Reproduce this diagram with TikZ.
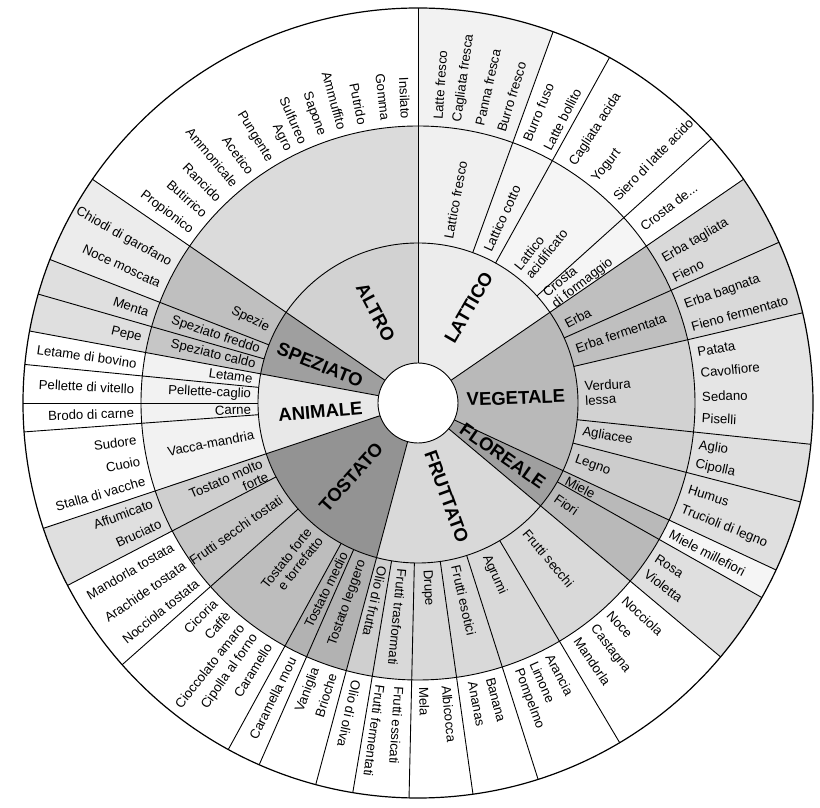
\documentclass[tikz,border=0pt]{standalone}
\usepackage{fontspec}
\setmainfont{Liberation Sans}
\newcommand\ringpart[5]{
  \fill[#1] (#2:#4) arc[start angle=#2, end angle=#3, radius=#4] -- (#3:#5) arc[start angle=#3, end angle=#2, radius=#5] -- cycle;
}
\newcommand\outword[4]{
  \node[word, anchor=west, align=left, rotate=#2] (#1) at (#2:#3) {#4};
}
\newcommand\inword[4]{
  \node[word, anchor=east, align=right, rotate=#2+180] (#1) at (#2:#3) {#4};
}

\begin{document}
\begin{tikzpicture}[x=1pt, y=1pt,
  word/.style={font=\fontsize{13.2}{14.2}\selectfont, inner sep=0pt},
  cat/.style={font=\fontsize{18.5}{20}\selectfont\bfseries, inner sep=0pt},
  rim/.style={line width=0.9pt}]
\fill[white] (-418,-405) rectangle (402,403);
\useasboundingbox (-418,-405) rectangle (402,403);

% inner ring
\ringpart{gray!35}{90}{145.5}{40}{160}
\ringpart{gray!75}{145.5}{169.5}{40}{160}
\ringpart{gray!18}{169.5}{198.5}{40}{160}
\ringpart{gray!85}{198.5}{255}{40}{160}
\ringpart{gray!30}{255}{320}{40}{160}
\ringpart{gray!75}{320}{335}{40}{160}
\ringpart{gray!55}{335}{394.5}{40}{160}
\ringpart{gray!15}{34.5}{90}{40}{160}

% middle ring
\ringpart{gray!28}{90}{145.5}{160}{277}
\ringpart{gray!50}{145.5}{158.7}{160}{277}
\ringpart{gray!45}{158.7}{169.5}{160}{277}
\ringpart{gray!10}{169.5}{198.5}{160}{277}
\ringpart{gray!38}{198.5}{207.5}{160}{277}
\ringpart{gray!45}{207.5}{221.5}{160}{277}
\ringpart{gray!52}{221.5}{241.3}{160}{277}
\ringpart{gray!60}{241.3}{255}{160}{277}
\ringpart{gray!38}{255}{260.5}{160}{277}
\ringpart{gray!30}{260.5}{320}{160}{277}
\ringpart{gray!55}{320}{335}{160}{277}
\ringpart{gray!40}{335}{345.5}{160}{277}
\ringpart{gray!35}{345.5}{373.2}{160}{277}
\ringpart{gray!50}{13.2}{34.5}{160}{277}
\ringpart{gray!8}{34.5}{70}{160}{277}
\ringpart{gray!12}{70}{90}{160}{277}

% outer ring
\ringpart{gray!15}{145.5}{158.7}{277}{395}
\ringpart{gray!25}{158.7}{169.5}{277}{395}
\ringpart{gray!25}{198.5}{207.5}{277}{395}
\ringpart{gray!25}{320}{330.5}{277}{395}
\ringpart{gray!8}{330.5}{335}{277}{395}
\ringpart{gray!25}{335}{354}{277}{395}
\ringpart{gray!20}{354}{373.2}{277}{395}
\ringpart{gray!30}{13.2}{34.5}{277}{395}
\ringpart{gray!10}{70}{90}{277}{395}

\foreach \a in {90,145.5,169.5,198.5,255,320,335,34.5}
  \draw[rim] (\a:40) -- (\a:395);
\foreach \a in {158.7,164,174.4,180,184.2,207.5,221.5,241.3,246.3,260.5,268.7,278,287.7,300.7,330.5,345.5,354,13.2,24,42,61,70}
  \draw[rim] (\a:160) -- (\a:395);
\draw[line width=1.2pt] (0,0) circle[radius=395];
\draw[rim] (0,0) circle[radius=277];
\draw[rim] (0,0) circle[radius=160];
\filldraw[rim, fill=white] (0,0) circle[radius=40];

% categories
\node[cat, rotate=-62] (altro) at (115:100) {ALTRO};
\node[cat, rotate=60] (lattico) at (62:108) {LATTICO};
\node[cat, rotate=2] (vegetale) at (3:98) {VEGETALE};
\node[cat, rotate=-35] (floreale) at (-32:100) {FLOREALE};
\node[cat, rotate=-70] (fruttato) at (-73:98) {FRUTTATO};
\node[cat, rotate=48] (tostato) at (-132:100) {TOSTATO};
\node[cat, rotate=5] (animale) at (185:98) {ANIMALE};
\node[cat, rotate=-22] (speziato) at (158.8:105) {SPEZIATO};

% middle ring words
\outword{lfresco}{79.5}{167}{Lattico fresco}
\outword{lcotto}{65.5}{167}{Lattico cotto}
\outword{lacid}{51.3}{167}{Lattico\\acidificato}
\outword{crosta}{38}{167}{Crosta\\di formaggio}
\outword{erba}{28}{167}{Erba}
\outword{erbaferm}{19}{167}{Erba fermentata}
\outword{verdura}{3.3}{167}{Verdura\\lessa}
\outword{agliacee}{-10}{167}{Agliacee}
\outword{legno}{-19.7}{167}{Legno}
\outword{miele}{-27.5}{167}{Miele}
\outword{fiori}{-34.5}{167}{Fiori}
\outword{fsecchi}{-50}{167}{Frutti secchi}
\outword{agrumi}{-66}{167}{Agrumi}
\outword{fesotici}{-77}{167}{Frutti esotici}
\outword{drupe}{-87}{167}{Drupe}
\outword{ftrasf}{-95.5}{167}{Frutti trasformati}
\outword{oliofr}{-102.3}{167}{Olio di frutta}
\inword{tleggero}{-109.5}{167}{Tostato leggero}
\inword{tmedio}{-116.2}{167}{Tostato medio}
\inword{tforte}{-128.3}{167}{Tostato forte\\e torrefatto}
\inword{fstostati}{-145}{167}{Frutti secchi tostati}
\inword{tmolto}{-156.5}{167}{Tostato molto\\forte}
\inword{vacca}{191}{167}{Vacca-mandria}
\inword{carne}{182.2}{167}{Carne}
\inword{pcaglio}{177.2}{167}{Pellette-caglio}
\inword{letame}{171.8}{167}{Letame}
\inword{spcaldo}{166.7}{167}{Speziato caldo}
\inword{spfreddo}{161.5}{167}{Speziato freddo}
\inword{spezie}{153.5}{167}{Spezie}

% outer ring words
\outword{lattefr}{86}{284}{Latte fresco}
\outword{caglfr}{82}{284}{Cagliata fresca}
\outword{panna}{77.5}{284}{Panna fresca}
\outword{burrofr}{73}{284}{Burro fresco}
\outword{burrofu}{67.5}{284}{Burro fuso}
\outword{bollito}{63}{284}{Latte bollito}
\outword{caglac}{57}{284}{Cagliata acida}
\outword{yogurt}{51.5}{284}{Yogurt}
\outword{siero}{46}{284}{Siero di latte acido}
\outword{crostade}{38}{284}{Crosta de...}
\outword{erbatagl}{30.3}{284}{Erba tagliata}
\outword{fieno}{26.1}{284}{Fieno}
\outword{erbabagn}{20}{284}{Erba bagnata}
\outword{fienoferm}{15.6}{284}{Fieno fermentato}
\outword{patata}{10.3}{284}{Patata}
\outword{cavolfiore}{6}{284}{Cavolfiore}
\outword{sedano}{1.3}{284}{Sedano}
\outword{piselli}{-3}{284}{Piselli}
\outword{aglio}{-8.7}{284}{Aglio}
\outword{cipolla}{-12.4}{284}{Cipolla}
\outword{humus}{-17.7}{284}{Humus}
\outword{trucioli}{-22}{284}{Trucioli di legno}
\outword{millefiori}{-27.4}{284}{Miele millefiori}
\outword{rosa}{-33}{284}{Rosa}
\outword{violetta}{-36.7}{284}{Violetta}
\outword{nocciola}{-43.5}{284}{Nocciola}
\outword{noce}{-47.7}{284}{Noce}
\outword{castagna}{-52}{284}{Castagna}
\outword{mandorla}{-56}{284}{Mandorla}
\outword{arancia}{-62.5}{284}{Arancia}
\outword{limone}{-66}{284}{Limone}
\outword{pompelmo}{-69.4}{284}{Pompelmo}
\outword{banana}{-75.3}{284}{Banana}
\outword{ananas}{-79}{284}{Ananas}
\outword{albicocca}{-84.3}{284}{Albicocca}
\outword{mela}{-88.8}{284}{Mela}
\outword{essicati}{-93.8}{284}{Frutti essicati}
\outword{fermentati}{-97.6}{284}{Frutti fermentati}
\outword{oliva}{-102.5}{284}{Olio di oliva}
\inword{brioche}{-107.5}{284}{Brioche}
\inword{vaniglia}{-111}{284}{Vaniglia}
\inword{mou}{-116.2}{284}{Caramella mou}
\inword{caramello}{-121.7}{284}{Caramello}
\inword{cipforno}{-125}{284}{Cipolla al forno}
\inword{cioccolato}{-128.4}{284}{Cioccolato amaro}
\inword{caffe}{-132}{284}{Caffè}
\inword{cicoria}{-135.5}{284}{Cicoria}
\inword{nocctost}{-141}{284}{Nocciola tostata}
\inword{arachide}{-145.3}{284}{Arachide tostata}
\inword{mandtost}{-149.7}{284}{Mandorla tostata}
\inword{bruciato}{-155}{284}{Bruciato}
\inword{affumicato}{-159.3}{284}{Affumicato}
\inword{stalla}{196}{284}{Stalla di vacche}
\inword{cuoio}{191.8}{284}{Cuoio}
\inword{sudore}{187.5}{284}{Sudore}
\inword{brodo}{182}{284}{Brodo di carne}
\inword{vitello}{177.2}{284}{Pellette di vitello}
\inword{bovino}{172}{284}{Letame di bovino}
\inword{pepe}{166.8}{284}{Pepe}
\inword{menta}{161.5}{284}{Menta}
\inword{moscata}{155.2}{284}{Noce moscata}
\inword{chiodi}{150.6}{284}{Chiodi di garofano}
\inword{propionico}{142.8}{284}{Propionico}
\inword{butirrico}{138.5}{284}{Butirrico}
\inword{rancido}{134.4}{284}{Rancido}
\inword{ammonicale}{130}{284}{Ammonicale}
\inword{acetico}{126}{284}{Acetico}
\inword{pungente}{121.5}{284}{Pungente}
\inword{agro}{117.2}{284}{Agro}
\inword{sulfureo}{113.8}{284}{Sulfureo}
\inword{sapone}{109.8}{284}{Sapone}
\inword{ammuffito}{105.5}{284}{Ammuffito}
\inword{putrido}{101.3}{284}{Putrido}
\inword{gomma}{96.6}{284}{Gomma}
\inword{insilato}{92.5}{284}{Insilato}
\end{tikzpicture}
\end{document}
